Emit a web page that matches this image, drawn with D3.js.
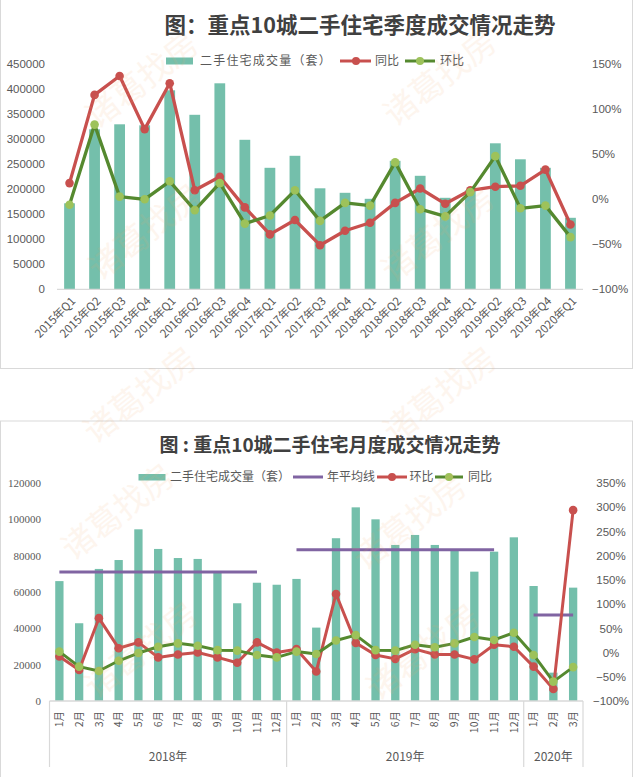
<!DOCTYPE html>
<html><head><meta charset="utf-8">
<script src="https://cdn.jsdelivr.net/npm/d3@7"></script>
<style>body{margin:0;background:#fff} svg{display:block}</style>
</head><body>
<svg id="c" width="633" height="777"></svg>
<script>
// ---------- Data: quarterly chart ----------
const quarters = ["2015年Q1","2015年Q2","2015年Q3","2015年Q4","2016年Q1","2016年Q2","2016年Q3","2016年Q4",
  "2017年Q1","2017年Q2","2017年Q3","2017年Q4","2018年Q1","2018年Q2","2018年Q3","2018年Q4",
  "2019年Q1","2019年Q2","2019年Q3","2019年Q4","2020年Q1"];
const qVolume = [172000,320000,330000,328000,398000,349000,412000,299000,243000,267000,202000,
  193000,181000,257000,227000,183000,198000,292000,260000,243000,143000];
const qYoY = [0.18,1.16,1.37,0.78,1.29,0.10,0.25,-0.09,-0.39,-0.23,-0.51,-0.35,-0.26,-0.04,0.12,
  -0.05,0.10,0.14,0.15,0.33,-0.28];
const qQoQ = [-0.06,0.83,0.03,0.00,0.20,-0.12,0.18,-0.27,-0.18,0.10,-0.24,-0.04,-0.07,0.41,-0.11,
  -0.19,0.08,0.48,-0.10,-0.07,-0.42];
const qLeftTicks = [0,50000,100000,150000,200000,250000,300000,350000,400000,450000];
const qRightTicks = [-1,-0.5,0,0.5,1,1.5];

// ---------- Data: monthly chart ----------
const months = ["1月","2月","3月","4月","5月","6月","7月","8月","9月","10月","11月","12月",
  "1月","2月","3月","4月","5月","6月","7月","8月","9月","10月","11月","12月",
  "1月","2月","3月"];
const yearGroups = ["2018年","2019年","2020年"];
const yearCounts = [12,12,3];
const mVolume = [66000,42800,72700,77600,94500,83700,78700,78200,71000,53800,65100,64000,
  67200,40400,89600,106600,100000,85900,91400,85900,83100,71200,82200,90100,
  63300,15600,62400];
const mAvg = [71000,71000,71000,71000,71000,71000,71000,71000,71000,71000,71000,null,
  83300,83300,83300,83300,83300,83300,83300,83300,83300,83300,83300,null,
  47300,47300,47300];
const mMoM = [-0.08,-0.36,0.71,0.09,0.21,-0.10,-0.04,0.00,-0.10,-0.21,0.21,0.00,
  0.07,-0.39,1.21,0.20,-0.05,-0.13,0.07,-0.04,-0.04,-0.14,0.16,0.12,
  -0.29,-0.75,2.94];
const mYoY = [0.02,-0.29,-0.38,-0.17,-0.01,0.12,0.19,0.14,0.05,0.04,-0.05,-0.10,
  0.02,-0.03,0.25,0.36,0.05,0.04,0.16,0.11,0.19,0.32,0.26,0.41,
  -0.05,-0.60,-0.30];
const mLeftTicks = [0,20000,40000,60000,80000,100000,120000];
const mRightTicks = [-1,-0.5,0,0.5,1,1.5,2,2.5,3,3.5];

// ---------- Style ----------
const CJK = "'Noto Sans CJK SC','Noto Sans',sans-serif";
const NUM = "'Liberation Sans',Arial,sans-serif";
const TEAL="#74BFAB", RED="#C8504E", GREEN="#55892F", LIME="#9DC25A", PURPLE="#8064A2",
      TXT="#595959", AX="#D9D9D9";

const svg = d3.select("#c");
svg.append("rect").attr("width",633).attr("height",777).attr("fill","#fff");
// panel borders
svg.append("rect").attr("x",0.5).attr("y",-2).attr("width",632).attr("height",370.5)
  .attr("fill","none").attr("stroke",AX);
svg.append("rect").attr("x",0.5).attr("y",421).attr("width",632).attr("height",362)
  .attr("fill","none").attr("stroke",AX);

function styleAxis(g, font, size){
  g.select(".domain").remove();
  g.selectAll("line").remove();
  g.selectAll("text").attr("fill",TXT).style("font-family",font).style("font-size",size+"px");
}

// ===================== TOP CHART =====================
const T = svg.append("g");
T.append("text").attr("x",360).attr("y",33).attr("text-anchor","middle")
  .style("font-family",CJK).style("font-weight",700).style("font-size","21.5px").attr("fill","#404040")
  .text("图：重点10城二手住宅季度成交情况走势");

const xq = d3.scaleBand().domain(quarters).range([57,583]);
const yq = d3.scaleLinear().domain([0,450000]).range([289.3,64.3]);
const yqr = d3.scaleLinear().domain([-1,1.5]).range([289.3,64.3]);
const bwq = xq.bandwidth();
const cxq = i => xq(quarters[i]) + bwq/2;

T.append("g").selectAll("rect").data(qVolume).join("rect")
  .attr("x",(d,i)=>cxq(i)-bwq*0.215).attr("width",bwq*0.43)
  .attr("y",d=>yq(d)).attr("height",d=>yq(0)-yq(d)).attr("fill",TEAL);

T.append("line").attr("x1",57).attr("x2",583).attr("y1",yq(0)).attr("y2",yq(0))
  .attr("stroke",AX).attr("stroke-width",1.3);

styleAxis(T.append("g").attr("transform","translate(57,0)")
  .call(d3.axisLeft(yq).tickValues(qLeftTicks).tickSize(0).tickPadding(12).tickFormat(d3.format("d"))), NUM, 11.5);
styleAxis(T.append("g").attr("transform","translate(583,0)")
  .call(d3.axisRight(yqr).tickValues(qRightTicks).tickSize(0).tickPadding(9).tickFormat(d3.format(".0%"))), NUM, 11.5);

T.append("g").selectAll("text").data(quarters).join("text")
  .attr("transform",(d,i)=>`translate(${cxq(i)+4},${299}) rotate(-45)`)
  .attr("text-anchor","end").attr("dy","0.35em")
  .style("font-family",CJK).style("font-size","11.5px").attr("fill",TXT).text(d=>d);

function drawLine(g, data, x, y, stroke, fill, w, r){
  const pts = data.map((v,i)=>[x(i), v]).filter(p=>p[1]!==null);
  g.append("path").datum(pts).attr("fill","none").attr("stroke",stroke).attr("stroke-width",w)
    .attr("stroke-linejoin","round").attr("stroke-linecap","round")
    .attr("d", d3.line().x(p=>p[0]).y(p=>y(p[1])));
  if(r>0) g.append("g").selectAll("circle").data(pts).join("circle")
    .attr("cx",p=>p[0]).attr("cy",p=>y(p[1])).attr("r",r).attr("fill",fill);
}
drawLine(T, qYoY, cxq, yqr, RED, RED, 3.3, 4.3);
drawLine(T, qQoQ, cxq, yqr, GREEN, LIME, 3.3, 4.3);

// top legend
const L1 = T.append("g").style("font-family",CJK).style("font-size","12px").attr("fill",TXT);
L1.append("rect").attr("x",166).attr("y",57.5).attr("width",27).attr("height",7).attr("fill",TEAL);
L1.append("text").attr("x",200).attr("y",61).attr("dy","0.35em").style("letter-spacing","1.2px").text("二手住宅成交量（套）");
L1.append("line").attr("x1",340).attr("x2",371).attr("y1",61).attr("y2",61).attr("stroke",RED).attr("stroke-width",3);
L1.append("circle").attr("cx",356).attr("cy",61).attr("r",4).attr("fill",RED);
L1.append("text").attr("x",375).attr("y",61).attr("dy","0.35em").text("同比");
L1.append("line").attr("x1",405).attr("x2",435).attr("y1",61).attr("y2",61).attr("stroke",GREEN).attr("stroke-width",3);
L1.append("circle").attr("cx",420).attr("cy",61).attr("r",4).attr("fill",LIME);
L1.append("text").attr("x",440).attr("y",61).attr("dy","0.35em").text("环比");

// ===================== BOTTOM CHART =====================
const B = svg.append("g");
B.append("text").attr("x",330).attr("y",452).attr("text-anchor","middle")
  .style("font-family",CJK).style("font-weight",700).style("font-size","19px").attr("fill","#404040")
  .text("图 : 重点10城二手住宅月度成交情况走势");

const idx = d3.range(months.length);
const xm = d3.scaleBand().domain(idx).range([49.5,583]);
const ym = d3.scaleLinear().domain([0,120000]).range([701,483]);
const ymr = d3.scaleLinear().domain([-1,3.5]).range([701,483]);
const bwm = xm.bandwidth();
const cxm = i => xm(i) + bwm/2;

B.append("g").selectAll("rect").data(mVolume).join("rect")
  .attr("x",(d,i)=>cxm(i)-bwm*0.21).attr("width",bwm*0.42)
  .attr("y",d=>ym(d)).attr("height",d=>ym(0)-ym(d)).attr("fill",TEAL);

B.append("line").attr("x1",49.5).attr("x2",583).attr("y1",ym(0)).attr("y2",ym(0))
  .attr("stroke",AX).attr("stroke-width",1.3);

styleAxis(B.append("g").attr("transform","translate(49.5,0)")
  .call(d3.axisLeft(ym).tickValues(mLeftTicks).tickSize(0).tickPadding(8.5).tickFormat(d3.format("d"))),
  "'Liberation Serif','DejaVu Serif',serif", 11);
const ra = B.append("g").attr("transform","translate(583,0)")
  .call(d3.axisRight(ymr).tickValues(mRightTicks).tickSize(0).tickPadding(28).tickFormat(d3.format(".0%")));
styleAxis(ra, NUM, 11.5);
ra.selectAll("text").attr("text-anchor","middle");

// month labels
B.append("g").selectAll("text").data(months).join("text")
  .attr("transform",(d,i)=>`translate(${cxm(i)},711) rotate(-90)`)
  .attr("text-anchor","end").attr("dy","0.35em")
  .style("font-family",CJK).style("font-size","10.5px").attr("fill",TXT).text(d=>d);
// group separators & year labels
let start = 0;
const bounds = [0];
yearCounts.forEach(n=>{start+=n; bounds.push(start);});
bounds.forEach(b=>{
  const x = b < months.length ? xm(b) : xm(months.length-1)+bwm;
  B.append("line").attr("x1",x).attr("x2",x).attr("y1",701).attr("y2",767).attr("stroke",AX).attr("stroke-width",1.2);
});
yearGroups.forEach((name,k)=>{
  const a = xm(bounds[k]);
  const b = bounds[k+1] < months.length ? xm(bounds[k+1]) : xm(months.length-1)+bwm;
  B.append("text").attr("x",(a+b)/2).attr("y",757).attr("dy","0.35em").attr("text-anchor","middle")
    .style("font-family",CJK).style("font-size","12px").attr("fill",TXT).text(name);
});

// average line segments (break at nulls)
const segs = [];
let cur = [];
mAvg.forEach((v,i)=>{ if(v===null){ if(cur.length) segs.push(cur); cur=[]; } else cur.push([cxm(i),v]); });
if(cur.length) segs.push(cur);
segs.forEach(s=>{
  B.append("path").datum(s).attr("fill","none").attr("stroke",PURPLE).attr("stroke-width",3)
    .attr("d", d3.line().x(p=>p[0]).y(p=>ym(p[1])));
});
drawLine(B, mMoM, cxm, ymr, RED, RED, 3, 4.3);
drawLine(B, mYoY, cxm, ymr, GREEN, LIME, 3, 4.3);

// bottom legend
const L2 = B.append("g").style("font-family",CJK).style("font-size","12px").attr("fill",TXT);
L2.append("rect").attr("x",138.5).attr("y",474).attr("width",27).attr("height",6.5).attr("fill",TEAL);
L2.append("text").attr("x",170).attr("y",477).attr("dy","0.35em").text("二手住宅成交量（套）");
L2.append("line").attr("x1",293).attr("x2",323).attr("y1",477).attr("y2",477).attr("stroke",PURPLE).attr("stroke-width",3);
L2.append("text").attr("x",327).attr("y",477).attr("dy","0.35em").text("年平均线");
L2.append("line").attr("x1",377).attr("x2",407).attr("y1",477).attr("y2",477).attr("stroke",RED).attr("stroke-width",3);
L2.append("circle").attr("cx",392).attr("cy",477).attr("r",4).attr("fill",RED);
L2.append("text").attr("x",409.5).attr("y",477).attr("dy","0.35em").text("环比");
L2.append("line").attr("x1",435).attr("x2",463).attr("y1",477).attr("y2",477).attr("stroke",GREEN).attr("stroke-width",3);
L2.append("circle").attr("cx",449).attr("cy",477).attr("r",4).attr("fill",LIME);
L2.append("text").attr("x",468).attr("y",477).attr("dy","0.35em").text("同比");

// watermark
const wm = [[142,80],[440,78],[145,232],[438,234],[140,395],[440,395],[118,512],[410,522],[141,650],[423,652]];
svg.append("g").selectAll("text").data(wm).join("text")
  .attr("transform",d=>`translate(${d[0]},${d[1]}) rotate(-38)`)
  .attr("text-anchor","middle").attr("dy","0.35em")
  .style("font-family",CJK).style("font-size","33px")
  .attr("fill","#F6A86A").attr("opacity",0.11).text("诸葛找房");
</script>
</body></html>
